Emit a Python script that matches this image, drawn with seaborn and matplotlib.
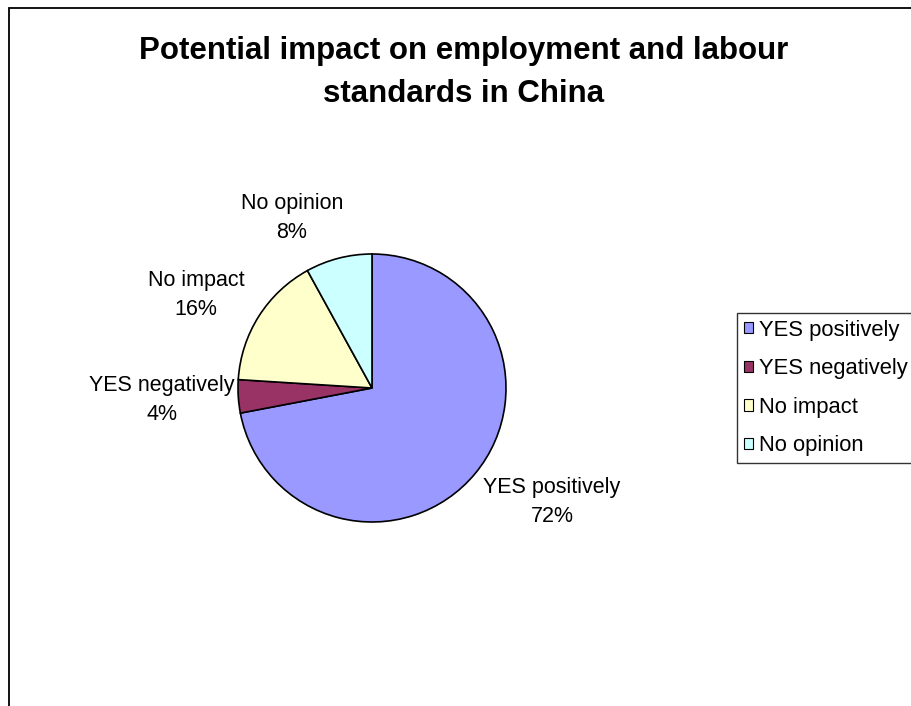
import matplotlib
matplotlib.use("Agg")
import matplotlib.pyplot as plt
import seaborn as sns
import numpy as np
from matplotlib.patches import Patch, Rectangle

# data
categories = ["YES positively", "YES negatively", "No impact", "No opinion"]
shares = [72, 4, 16, 8]
colours = ["#9999FF", "#993366", "#FFFFCC", "#CCFFFF"]
title = "Potential impact on employment and labour\nstandards in China"

# label offsets from pie centre, in pie radii (layout only)
label_pos = [(1.343, -0.85), (-1.567, -0.09), (-1.313, 0.694), (-0.597, 1.269)]

sns.set_theme(style="white")
plt.rcParams['font.family'] = ['Liberation Sans', 'DejaVu Sans']
plt.rcParams['text.color'] = 'black'

W, H = 911, 706
fig = plt.figure(figsize=(W / 100, H / 100), dpi=100)
fig.patch.set_facecolor("white")

# outer chart border (runs off the right and bottom of the image)
fig.patches.append(Rectangle((9 / W, -0.1), 1.2, 1 - 8 / H + 0.1, transform=fig.transFigure,
                             fill=False, edgecolor="black", linewidth=1.3, clip_on=False))

# title, one line at a time so the baselines sit where the original has them
for line, base in zip(title.split("\n"), [59, 102]):
    fig.text(464 / W, 1 - base / H, line, ha="center", va="baseline", fontsize=22.5,
             fontweight="bold")

cx, cy, r = 372, 388, 134
ax = fig.add_axes([(cx - r) / W, (H - cy - r) / H, 2 * r / W, 2 * r / H])
wedges, _ = ax.pie(shares, colors=colours, startangle=90, counterclock=False,
                   wedgeprops=dict(edgecolor="black", linewidth=1.2))
ax.set_xlim(-1, 1)
ax.set_ylim(-1, 1)
ax.set_aspect("equal")
ax.axis("off")

for cat, val, (lx, ly) in zip(categories, shares, label_pos):
    ax.text(lx, ly, f"{cat}\n{val}%", ha="center", va="center", fontsize=15.5,
            linespacing=1.55, clip_on=False)

handles = [Patch(facecolor=c, edgecolor="black", linewidth=0.8) for c in colours]
leg = fig.legend(handles, categories, loc="upper left",
                 bbox_to_anchor=(737 / W, 1 - 313 / H), fontsize=15.8,
                 frameon=True, fancybox=False, edgecolor="black",
                 handlelength=0.42, handleheight=0.42, handletextpad=0.3,
                 labelspacing=0.8, borderpad=0.3, borderaxespad=0)
leg.get_frame().set_linewidth(1.0)

fig.savefig("out.png", dpi=100, facecolor="white")
